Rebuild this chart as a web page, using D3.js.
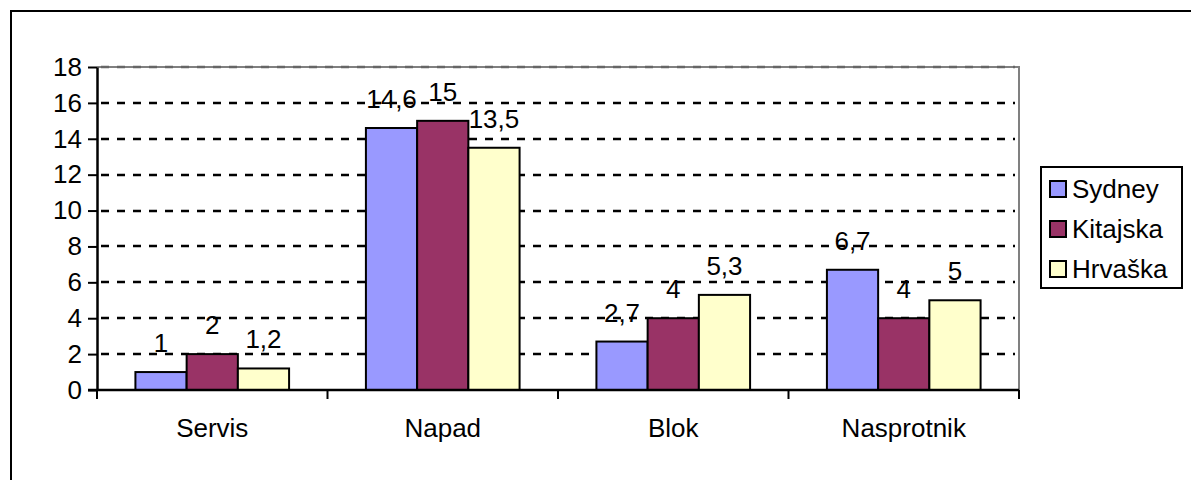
<!DOCTYPE html>
<html>
<head>
<meta charset="utf-8">
<script src="https://cdn.jsdelivr.net/npm/d3@7"></script>
<style>
body { margin: 0; background: #fff; }
text { font-family: Arial, "Liberation Sans", sans-serif; }
</style>
</head>
<body>
<div id="chart"></div>
<script>
var categories = ["Servis", "Napad", "Blok", "Nasprotnik"];
var series = ["Sydney", "Kitajska", "Hrvaška"];
var sydney = [1, 14.6, 2.7, 6.7];
var kitajska = [2, 15, 4, 4];
var hrvaska = [1.2, 13.5, 5.3, 5];
var yTicks = [0, 2, 4, 6, 8, 10, 12, 14, 16, 18];
var colors = ["#9999FF", "#993366", "#FFFFCC"];

var values = [sydney, kitajska, hrvaska];
var w = 1191, h = 480;
var plotLeft = 97, plotRight = 1019, plotTop = 67, plotBottom = 390;
var fontSize = 26;

var svg = d3.select("#chart").append("svg")
    .attr("width", w)
    .attr("height", h);

// outer chart border (only top/left visible, rest clipped)
svg.append("rect")
    .attr("x", 11).attr("y", 11)
    .attr("width", 1400).attr("height", 800)
    .attr("fill", "none")
    .attr("stroke", "#000")
    .attr("stroke-width", 2);

var x = d3.scaleBand().domain(categories).range([plotLeft, plotRight]);
var inner = d3.scaleBand().domain(series)
    .range([0, x.bandwidth()])
    .paddingOuter(0.75).paddingInner(0);
var y = d3.scaleLinear().domain([0, 18]).range([plotBottom, plotTop]);

// plot area border (grey top/right)
svg.append("path")
    .attr("d", "M" + plotLeft + "," + plotTop + "H" + plotRight + "V" + plotBottom)
    .attr("fill", "none")
    .attr("stroke", "#808080")
    .attr("stroke-width", 2);

// dashed gridlines
svg.selectAll(".grid")
    .data(yTicks.filter(function(d) { return d > 0; }))
    .enter()
    .append("line")
    .attr("x1", plotLeft + 4)
    .attr("x2", plotRight - 4)
    .attr("y1", function(d) { return Math.round(y(d)); })
    .attr("y2", function(d) { return Math.round(y(d)); })
    .attr("stroke", function(d) { return d === 18 ? "#666" : "#000"; })
    .attr("stroke-width", 2.5)
    .attr("stroke-dasharray", "8,8");

// bars
series.forEach(function(s, si) {
    svg.selectAll(".bar" + si)
        .data(values[si])
        .enter()
        .append("rect")
        .attr("x", function(d, i) { return x(categories[i]) + inner(s); })
        .attr("y", function(d) { return y(d); })
        .attr("width", inner.bandwidth())
        .attr("height", function(d) { return plotBottom - y(d); })
        .attr("fill", colors[si])
        .attr("stroke", "#000")
        .attr("stroke-width", 2);
});

series.forEach(function(s, si) {
    svg.selectAll(".lab" + si)
        .data(values[si])
        .enter()
        .append("text")
        .attr("x", function(d, i) { return x(categories[i]) + inner(s) + inner.bandwidth() / 2; })
        .attr("y", function(d) { return y(d) - 20; })
        .attr("text-anchor", "middle")
        .attr("font-size", fontSize)
        .text(function(d) { return String(d).replace(".", ","); });
});

// y axis
var yAxis = d3.axisLeft(y).tickValues(yTicks).tickSize(9).tickSizeOuter(0).tickPadding(6);
var gy = svg.append("g")
    .attr("transform", "translate(" + plotLeft + ",0)")
    .call(yAxis);
gy.selectAll("text").attr("font-size", fontSize).attr("font-family", "Arial, 'Liberation Sans', sans-serif");
gy.select(".domain").attr("stroke-width", 2.5);
gy.selectAll(".tick line").attr("stroke-width", 2);

// x axis with ticks between categories
var gx = svg.append("g");
gx.append("line")
    .attr("x1", plotLeft - 9).attr("x2", plotRight)
    .attr("y1", plotBottom).attr("y2", plotBottom)
    .attr("stroke", "#000").attr("stroke-width", 2.5);
gx.selectAll(".xt")
    .data(categories.concat(["end"]))
    .enter()
    .append("line")
    .attr("x1", function(d, i) { return plotLeft + i * x.bandwidth(); })
    .attr("x2", function(d, i) { return plotLeft + i * x.bandwidth(); })
    .attr("y1", plotBottom)
    .attr("y2", plotBottom + 9)
    .attr("stroke", "#000").attr("stroke-width", 2);
gx.selectAll(".xl")
    .data(categories)
    .enter()
    .append("text")
    .attr("x", function(d) { return x(d) + x.bandwidth() / 2; })
    .attr("y", 437)
    .attr("text-anchor", "middle")
    .attr("font-size", fontSize)
    .text(function(d) { return d; });

// legend
var legend = svg.append("g");
legend.append("rect")
    .attr("x", 1041).attr("y", 167)
    .attr("width", 141).attr("height", 121)
    .attr("fill", "#fff")
    .attr("stroke", "#000")
    .attr("stroke-width", 2);
legend.selectAll(".sw")
    .data(series)
    .enter()
    .append("rect")
    .attr("x", 1050)
    .attr("y", function(d, i) { return 181 + i * 40; })
    .attr("width", 16).attr("height", 16)
    .attr("fill", function(d, i) { return colors[i]; })
    .attr("stroke", "#000")
    .attr("stroke-width", 2);
legend.selectAll(".lt")
    .data(series)
    .enter()
    .append("text")
    .attr("x", 1072)
    .attr("y", function(d, i) { return 198 + i * 40; })
    .attr("font-size", fontSize)
    .text(function(d) { return d; });
</script>
</body>
</html>
